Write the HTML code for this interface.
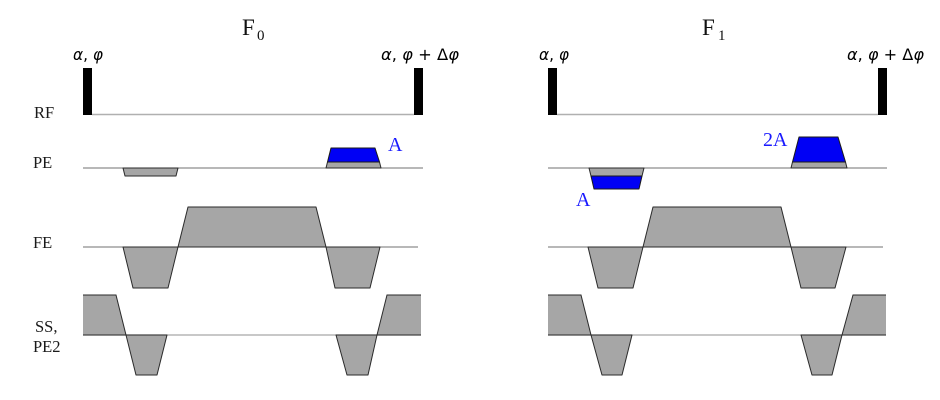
<!DOCTYPE html>
<html>
<head>
<meta charset="utf-8">
<style>
  html, body { margin: 0; padding: 0; background: #ffffff; }
  body { width: 940px; height: 400px; overflow: hidden; }
  svg { display: block; }
  .lbl { font-family: "Liberation Serif", serif; font-size: 16.5px; fill: #1a1a1a; }
  .ttl { font-family: "Liberation Serif", serif; font-size: 23px; fill: #111; }
  .sub { font-family: "Liberation Serif", serif; font-size: 15px; fill: #111; }
  .math { font-family: "DejaVu Sans", sans-serif; font-size: 16px; fill: #000; }
  .blue { font-family: "Liberation Serif", serif; font-size: 20px; fill: #1a1aff; }
  .g { fill: #a6a6a6; stroke: #2a2a2a; stroke-width: 1; stroke-linejoin: round; }
  .gf { fill: #a6a6a6; stroke: none; }
  .edge { fill: none; stroke: #2a2a2a; stroke-width: 1; }
  .b { fill: #0000f5; stroke: #1a1a1a; stroke-width: 1; stroke-linejoin: round; }
  .rfline { stroke: #b0b0b0; stroke-width: 1.6; }
  .base { stroke: #707070; stroke-width: 1; }
  .sbase { stroke: #a8a8a8; stroke-width: 1.2; }
</style>
</head>
<body>
<svg width="940" height="400" viewBox="0 0 940 400" xmlns="http://www.w3.org/2000/svg">
  <!-- Row labels -->
  <text class="lbl" x="34" y="118">RF</text>
  <text class="lbl" x="33" y="168">PE</text>
  <text class="lbl" x="33" y="248">FE</text>
  <text class="lbl" x="35" y="332">SS,</text>
  <text class="lbl" x="33" y="352">PE2</text>

  <!-- Titles -->
  <text class="ttl" x="242" y="35">F</text><text class="sub" x="257" y="40">0</text>
  <text class="ttl" x="702" y="35">F</text><text class="sub" x="718" y="40">1</text>

  <!-- ============ LEFT PANEL (F0) ============ -->
  <text class="math" x="73" y="60" textLength="30" lengthAdjust="spacingAndGlyphs"><tspan font-style="italic">α</tspan>, <tspan font-style="italic">φ</tspan></text>
  <text class="math" x="381" y="60" textLength="78" lengthAdjust="spacingAndGlyphs"><tspan font-style="italic">α</tspan>, <tspan font-style="italic">φ</tspan> + Δ<tspan font-style="italic">φ</tspan></text>
  <!-- RF -->
  <line class="rfline" x1="92" y1="114.5" x2="414" y2="114.5"/>
  <rect x="83" y="68" width="9" height="47" fill="#000"/>
  <rect x="414" y="68" width="9" height="47" fill="#000"/>

  <!-- PE -->
  <line class="base" x1="83" y1="168" x2="423" y2="168"/>
  <polygon class="g" points="123,168 178,168 176,176 125,176"/>
  <polygon class="g" points="326,168 381,168 379.5,162 327.5,162"/>
  <polygon class="b" points="327.5,162 379.5,162 375,148 331,148"/>
  <text class="blue" x="388" y="151">A</text>

  <!-- FE -->
  <line class="base" x1="83" y1="247" x2="418" y2="247"/>
  <polygon class="g" points="178,247 188,207 316,207 326,247"/>
  <polygon class="g" points="123,247 178,247 168,288 133,288"/>
  <polygon class="g" points="326,247 380,247 370,288 335,288"/>

  <!-- SS -->
  <line class="sbase" x1="83" y1="335" x2="421" y2="335"/>
  <polygon class="gf" points="83,295 116,295 126,335 83,335"/>
  <polyline class="edge" points="83,295 116,295 126,335"/>
  <line class="edge" x1="83" y1="335" x2="126" y2="335"/>
  <polygon class="g" points="126,335 167,335 157,375 136,375"/>
  <polygon class="g" points="336,335 377,335 368,375 347,375"/>
  <polygon class="gf" points="377,335 387,295 421,295 421,335"/>
  <polyline class="edge" points="377,335 387,295 421,295"/>
  <line class="edge" x1="377" y1="335" x2="421" y2="335"/>

  <!-- ============ RIGHT PANEL (F1) ============ -->
  <text class="math" x="539" y="60" textLength="30" lengthAdjust="spacingAndGlyphs"><tspan font-style="italic">α</tspan>, <tspan font-style="italic">φ</tspan></text>
  <text class="math" x="847" y="60" textLength="77" lengthAdjust="spacingAndGlyphs"><tspan font-style="italic">α</tspan>, <tspan font-style="italic">φ</tspan> + Δ<tspan font-style="italic">φ</tspan></text>
  <!-- RF -->
  <line class="rfline" x1="557" y1="114.5" x2="878" y2="114.5"/>
  <rect x="548" y="68" width="9" height="47" fill="#000"/>
  <rect x="878" y="68" width="9" height="47" fill="#000"/>

  <!-- PE -->
  <line class="base" x1="548" y1="168" x2="887" y2="168"/>
  <polygon class="g" points="589,168 644,168 642,176 591,176"/>
  <polygon class="b" points="591,176 642,176 639,189 594,189"/>
  <text class="blue" x="576" y="206">A</text>
  <polygon class="g" points="791,168 847,168 845.5,162 792.5,162"/>
  <polygon class="b" points="792.5,162 845.5,162 838,137 799,137"/>
  <text class="blue" x="763" y="146">2A</text>

  <!-- FE -->
  <line class="base" x1="548" y1="247" x2="883" y2="247"/>
  <polygon class="g" points="643,247 653,207 781,207 791,247"/>
  <polygon class="g" points="588,247 643,247 633,288 598,288"/>
  <polygon class="g" points="791,247 846,247 835,288 801,288"/>

  <!-- SS -->
  <line class="sbase" x1="548" y1="335" x2="886" y2="335"/>
  <polygon class="gf" points="548,295 581,295 591,335 548,335"/>
  <polyline class="edge" points="548,295 581,295 591,335"/>
  <line class="edge" x1="548" y1="335" x2="591" y2="335"/>
  <polygon class="g" points="591,335 632,335 622,375 602,375"/>
  <polygon class="g" points="801,335 842,335 832,375 812,375"/>
  <polygon class="gf" points="842,335 853,295 886,295 886,335"/>
  <polyline class="edge" points="842,335 853,295 886,295"/>
  <line class="edge" x1="842" y1="335" x2="886" y2="335"/>
</svg>
</body>
</html>
